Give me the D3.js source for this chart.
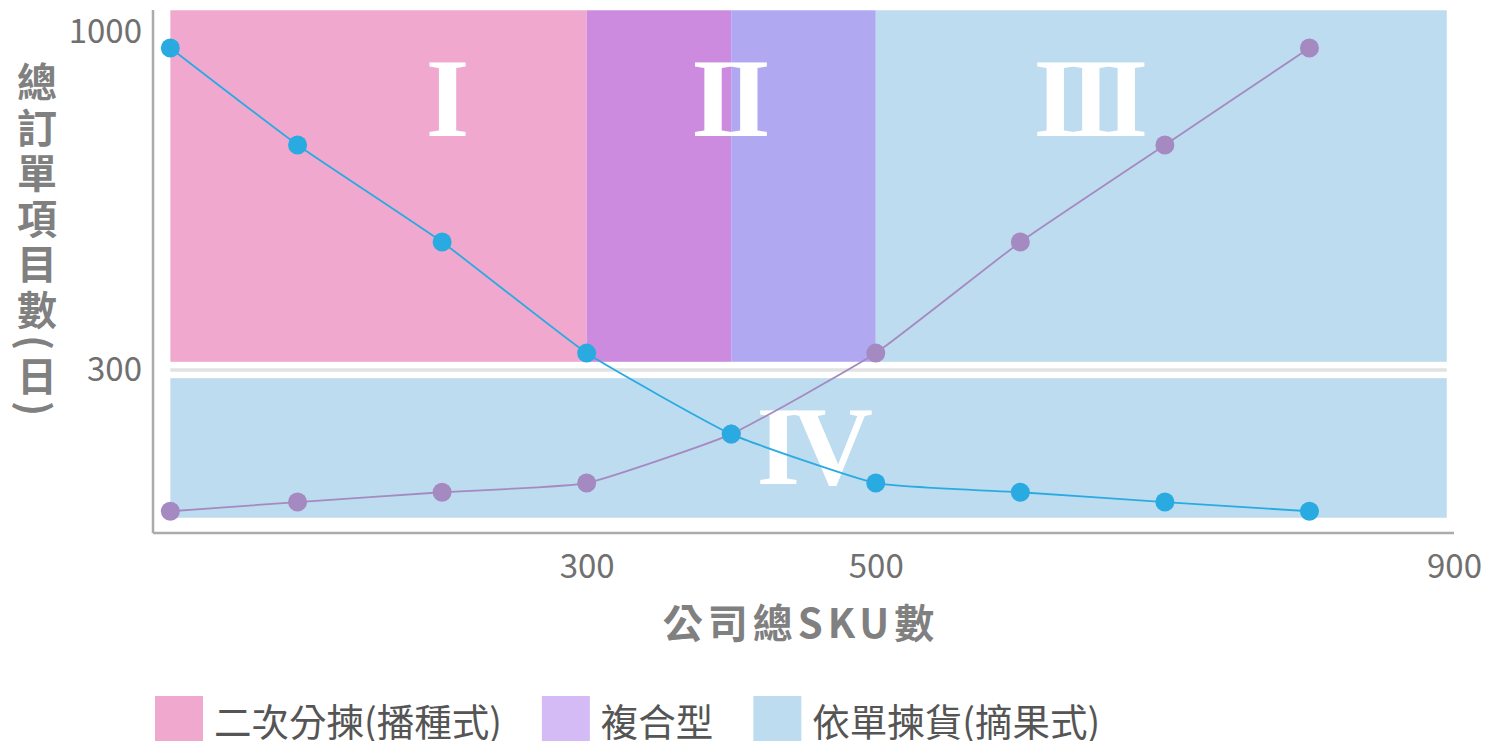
<!DOCTYPE html>
<html><head><meta charset="utf-8">
<script src="https://cdn.jsdelivr.net/npm/d3@7"></script>
<style>
html,body{margin:0;padding:0;background:#fff;}
svg{display:block;}
</style></head>
<body><svg id="chart" width="1488" height="741"></svg>
<script>
// ---------- data ----------
const skuValues   = [12, 100, 200, 300, 400, 500, 600, 700, 800];
const seriesBlue  = [967, 766, 565, 335, 182, 92, 75, 57, 40];
const seriesPurple= [40, 57, 75, 92, 182, 335, 565, 766, 967];
const xTickValues = [300, 500, 900];
const xTickLabels = ["300", "500", "900"];
const yTickValues = [300, 1000];
const yTickLabels = ["300", "1000"];
const zoneLabels  = ["I", "II", "III", "IV"];
const zoneX       = [201, 397, 646, 455];
const zoneY       = [785, 785, 785, 90];
const bandX0      = [12, 300, 400, 500, 12];
const bandX1      = [300, 400, 500, 895, 895];
const bandV0      = [317, 317, 317, 317, 28];
const bandV1      = [1045, 1045, 1045, 1045, 285];
const legendLabels= ["二次分揀(播種式)", "複合型", "依單揀貨(摘果式)"];
const xTitle = "公司總SKU數";
const yTitle = "總訂單項目數(日)";

// ---------- styles ----------
const bandColors   = ["#F0A8CE", "#CD8BDF", "#B1A8F2", "#BDDCF0", "#BDDCF0"];
const legendColors = ["#F0A8CE", "#D5BBF6", "#BDDCF0"];
const blue = "#29ABE2", purple = "#A48AC0";
const font = "'Noto Sans CJK TC', 'Noto Sans', sans-serif";

const svg = d3.select("#chart");
const x = d3.scaleLinear().domain([0, 900]).range([153, 1454]);
const y = d3.scaleLinear().domain([0, 300, 1000]).range([533, 370, 32]);

// bands
svg.append("g").selectAll("rect").data(bandX0).join("rect")
  .attr("x", (d, i) => x(d))
  .attr("width", (d, i) => x(bandX1[i]) - x(d))
  .attr("y", (d, i) => y(bandV1[i]))
  .attr("height", (d, i) => y(bandV0[i]) - y(bandV1[i]))
  .attr("fill", (d, i) => bandColors[i]);

// break separator
svg.append("line")
  .attr("x1", x(12)).attr("x2", x(895))
  .attr("y1", y(300)).attr("y2", y(300))
  .attr("stroke", "#E2E2E2").attr("stroke-width", 3.5);

// zone numerals
svg.append("g").selectAll("text").data(zoneLabels).join("text")
  .attr("x", (d, i) => x(zoneX[i]))
  .attr("y", (d, i) => y(zoneY[i]))
  .attr("text-anchor", "middle")
  .attr("font-family", "'Liberation Serif', 'DejaVu Serif', serif")
  .attr("font-weight", "bold")
  .attr("font-size", 112)
  .attr("letter-spacing", "-8px")
  .attr("fill", "#fff")
  .text(d => d);

// axes
const xAxis = d3.axisBottom(x).tickValues(xTickValues)
  .tickFormat((d, i) => xTickLabels[i]).tickSize(0).tickPadding(22);
const gx = svg.append("g").attr("transform", `translate(0,${y(0)})`).call(xAxis);
const yAxis = d3.axisLeft(y).tickValues(yTickValues)
  .tickFormat((d, i) => yTickLabels[i]).tickSize(0).tickPadding(11);
const gy = svg.append("g").attr("transform", `translate(${x(0)},0)`).call(yAxis);
gx.select(".domain").attr("d", `M${x(0)},0H${x(900)}`);
gy.select(".domain").attr("d", `M0,10V${y(0)}`);
[gx, gy].forEach(g => {
  g.select(".domain").attr("stroke", "#ABABAB").attr("stroke-width", 2.5);
  g.selectAll("text").attr("font-family", font).attr("font-size", 33).attr("fill", "#707070");
});

// lines
const line = d3.line().x((d, i) => x(skuValues[i])).y(d => y(d)).curve(d3.curveCardinal.tension(0.6));
svg.append("path").datum(seriesPurple).attr("d", line)
  .attr("fill", "none").attr("stroke", purple).attr("stroke-width", 1.8);
svg.append("path").datum(seriesBlue).attr("d", line)
  .attr("fill", "none").attr("stroke", blue).attr("stroke-width", 1.8);

// dots
svg.append("g").selectAll("circle").data(seriesPurple).join("circle")
  .attr("cx", (d, i) => x(skuValues[i])).attr("cy", d => y(d)).attr("r", 9.5).attr("fill", purple);
svg.append("g").selectAll("circle").data(seriesBlue).join("circle")
  .attr("cx", (d, i) => x(skuValues[i])).attr("cy", d => y(d)).attr("r", 9.5).attr("fill", blue);

// titles
svg.append("text")
  .attr("x", 801).attr("y", 638)
  .attr("text-anchor", "middle")
  .attr("font-family", font).attr("font-weight", "bold")
  .attr("font-size", 40).attr("letter-spacing", "5px")
  .attr("fill", "#808080")
  .text(xTitle);

svg.append("text")
  .attr("x", 37).attr("y", 62)
  .style("writing-mode", "vertical-rl")
  .style("text-orientation", "mixed")
  .attr("font-family", font).attr("font-weight", "bold")
  .attr("font-size", 40).attr("letter-spacing", "5.5px")
  .attr("fill", "#808080")
  .text(yTitle);

// legend
const lg = svg.append("g");
let lx = 155;
legendLabels.forEach((lab, i) => {
  lg.append("rect").attr("x", lx).attr("y", 696).attr("width", 48).attr("height", 48)
    .attr("fill", legendColors[i]);
  const t = lg.append("text").attr("x", lx + 59).attr("y", 736)
    .attr("font-family", font).attr("font-size", 37.5).attr("fill", "#555")
    .text(lab);
  lx = lx + 59 + t.node().getComputedTextLength() + 40;
});
</script>
</body></html>
